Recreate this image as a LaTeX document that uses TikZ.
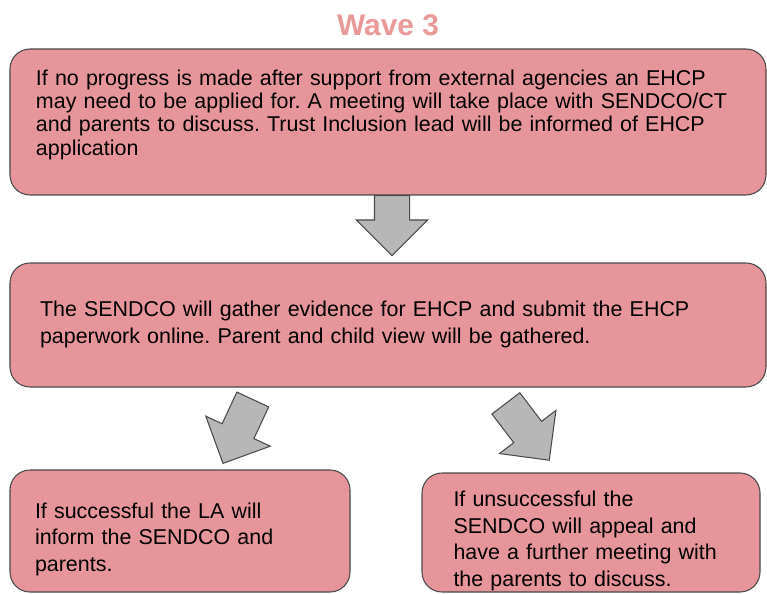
\documentclass[tikz,border=0pt]{standalone}
\usepackage{fontspec}
\setmainfont{Liberation Sans}
\frenchspacing
\usetikzlibrary{shapes.arrows}

\definecolor{boxpink}{HTML}{E6959A}
\definecolor{titlepink}{HTML}{EA9999}
\definecolor{edgegray}{HTML}{4A4A4A}
\definecolor{arrowgray}{HTML}{B7B7B7}

\begin{document}
\begin{tikzpicture}[
       stage/.style={
         draw=edgegray,
         fill=boxpink,
         line width=0.6pt,
         rounded corners=0.4cm,
         align=left,
         text width=#1,
         inner ysep=0pt,
         text height=9pt,
         font=\fontsize{12.2}{15.1}\selectfont
       },
       bigarrow/.style={
         single arrow,
         draw=edgegray,
         fill=arrowgray,
         line width=0.6pt,
         inner xsep=0pt,
         inner ysep=0.34cm,
         single arrow head extend=0.36cm,
         anchor=tail,
         minimum height=#1
       }
     ]

       \useasboundingbox (0,0) rectangle (15.34,11.86);

       \node[font=\bfseries\fontsize{17}{20}\selectfont, text=titlepink] (wave) at (7.76,11.36) {Wave 3};

       \node (apply) at (7.76,9.42) [stage=14.08cm, inner xsep=0.52cm, minimum height=2.92cm,
         text depth=50.5pt, font=\fontsize{12.2}{13.2}\selectfont]
         {If no progress is made after support from external agencies an EHCP\\
          may need to be applied for. A meeting will take place with SENDCO/CT\\
          and parents to discuss. Trust Inclusion lead will be informed of EHCP\\
          application};

       \node (gather) at (7.76,5.36) [stage=13.92cm, inner xsep=0.6cm, minimum height=2.48cm,
         text depth=18.4pt]
         {The SENDCO will gather evidence for EHCP and submit the EHCP\\
          paperwork online. Parent and child view will be gathered.};

       \node (yes) at (3.6,1.24) [stage=5.8cm, inner xsep=0.5cm, minimum height=2.44cm,
         text depth=23.4pt]
         {If successful the LA will\\
          inform the SENDCO and\\
          parents.};

       \node (no) at (11.82,1.21) [stage=5.5cm, inner xsep=0.63cm, minimum height=2.38cm,
         text depth=38.4pt]
         {If unsuccessful the\\
          SENDCO will appeal and\\
          have a further meeting with\\
          the parents to discuss.};

       % block arrows between the stages
       \node (a1) at (7.84,7.96) [bigarrow=1.2cm, rotate=-90]{};
       \node (a2) at (5.06,3.88) [bigarrow=1.41cm, rotate=-115]{};
       \node (a3) at (10.11,3.80) [bigarrow=1.43cm, rotate=-52.6]{};

\end{tikzpicture}
\end{document}
